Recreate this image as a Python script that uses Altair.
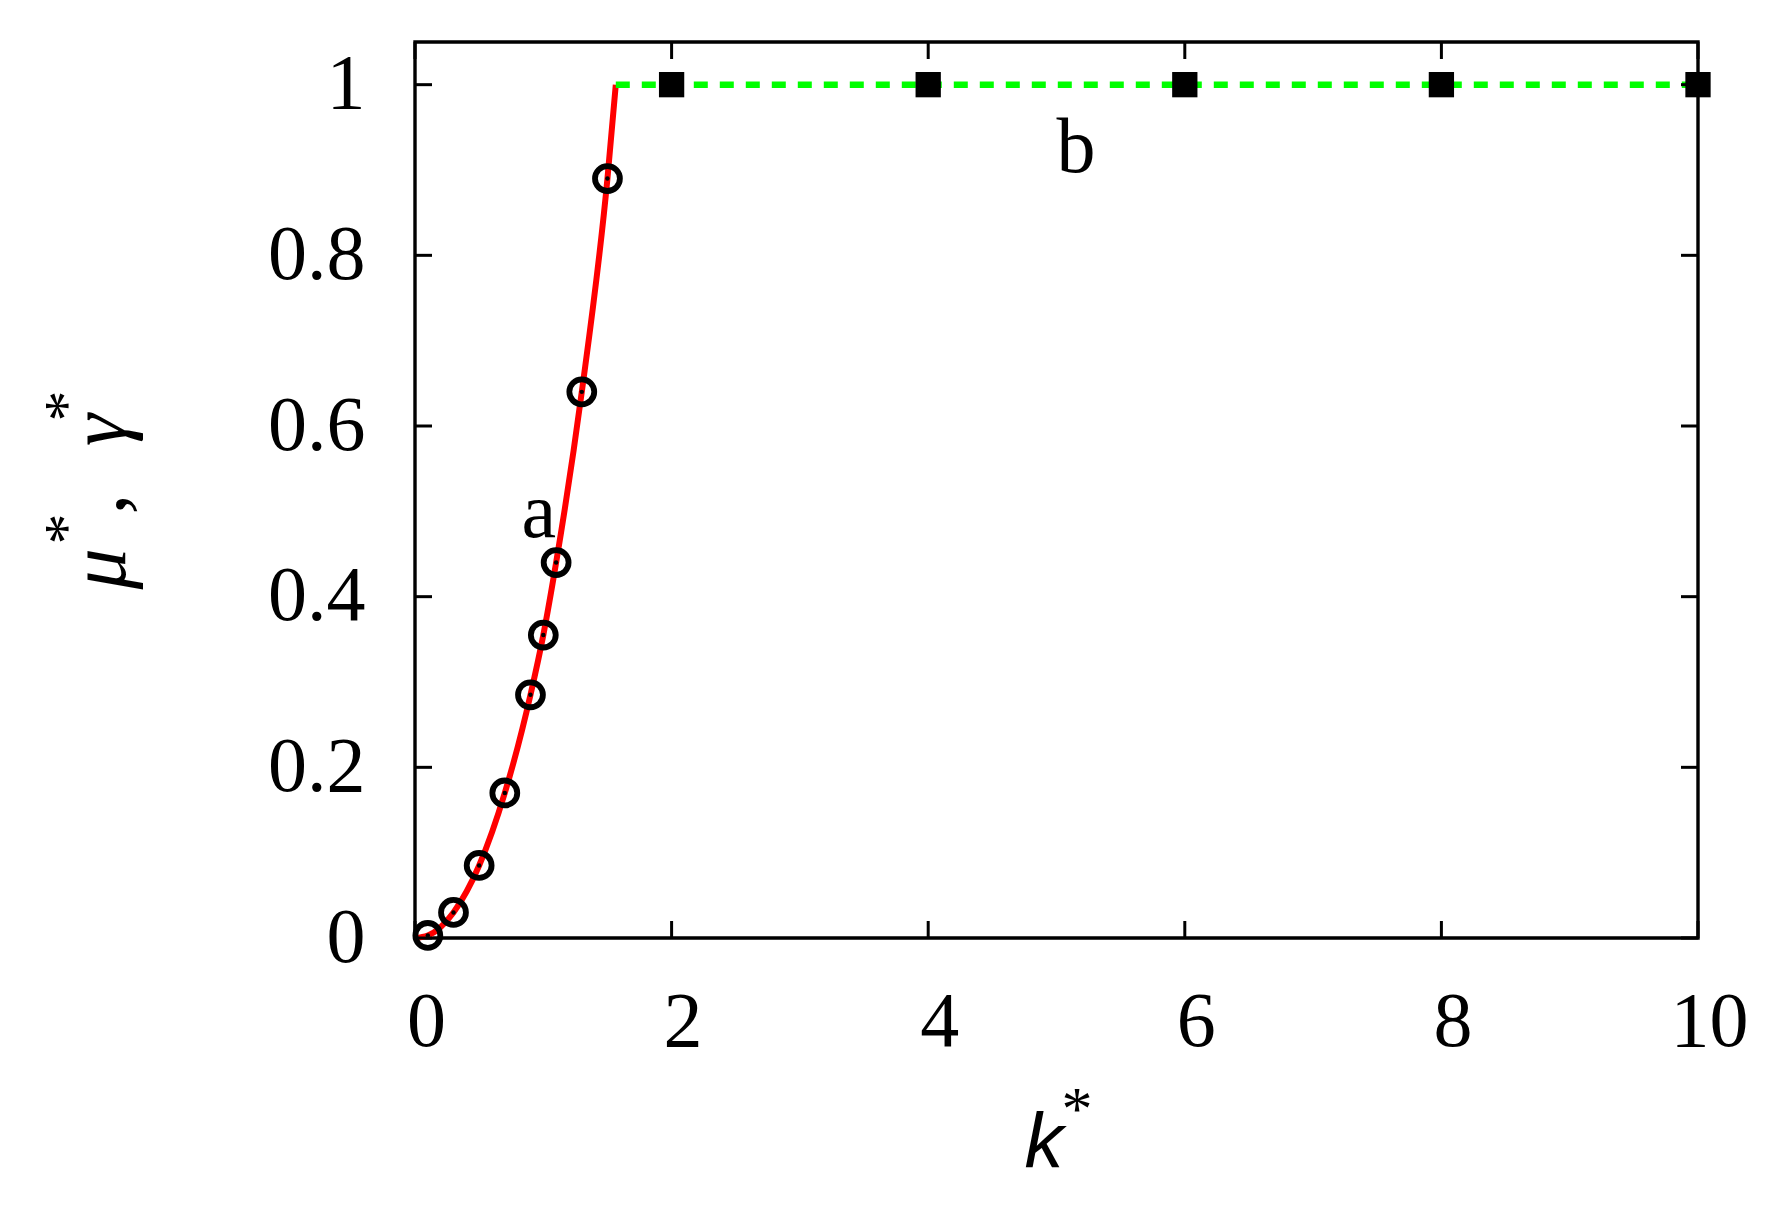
import altair as alt
import pandas as pd

# ---- data ----
curve_k = [0.0, 0.1, 0.3, 0.5, 0.7, 0.9, 1.0, 1.1, 1.3, 1.5, 1.565]
curve_v = [0.0, 0.003, 0.03, 0.085, 0.17, 0.285, 0.355, 0.44, 0.64, 0.89, 1.0]

circ_k = [0.1, 0.3, 0.5, 0.7, 0.9, 1.0, 1.1, 1.3, 1.5]
circ_v = [0.003, 0.03, 0.085, 0.17, 0.285, 0.355, 0.44, 0.64, 0.89]

dash_k = [1.565, 10.0]
dash_v = [1.0, 1.0]

sq_k = [2, 4, 6, 8, 10]
sq_v = [1.0, 1.0, 1.0, 1.0, 1.0]

x_ticks = [0, 2, 4, 6, 8, 10]
y_ticks = [0, 0.2, 0.4, 0.6, 0.8, 1.0]

ann_text = ["a", "b"]
ann_k = [0.83, 5.0]
ann_v = [0.47, 0.898]

W, H = 1283, 896
TICK = 17
SERIF = "Liberation Serif"

xscale = alt.Scale(domain=[0, 10], nice=False, zero=False)
yscale = alt.Scale(domain=[0, 1.05], nice=False, zero=False)
xaxis = alt.Axis(values=x_ticks, title=None, format="d", grid=False,
                 domain=False, ticks=False, tickSize=0, labelFont=SERIF,
                 labelFontSize=78, labelColor="black", labelPadding=107,
                 labelBaseline="alphabetic", labelOffset=11, labelFlush=False,
                 labelOverlap=False)
yaxis = alt.Axis(values=y_ticks, title=None, format="~g", grid=False,
                 domain=False, ticks=False, tickSize=0, labelFont=SERIF,
                 labelFontSize=78, labelColor="black", labelPadding=50,
                 labelAlign="right", labelBaseline="middle", labelFlush=False,
                 labelOverlap=False)

def X(f):
    return alt.X(f, type="quantitative", scale=xscale, axis=xaxis)

def Y(f):
    return alt.Y(f, type="quantitative", scale=yscale, axis=yaxis)

curve_df = pd.DataFrame({"k": curve_k, "v": curve_v})
circ_df = pd.DataFrame({"k": circ_k, "v": circ_v})
dash_df = pd.DataFrame({"k": dash_k, "v": dash_v})
sq_df = pd.DataFrame({"k": sq_k, "v": sq_v})
xt_df = pd.DataFrame({"t": x_ticks})
yt_df = pd.DataFrame({"t": y_ticks})
ann_df = pd.DataFrame({"k": ann_k, "v": ann_v, "s": ann_text})

curve = alt.Chart(curve_df).mark_line(
    color="#ff0000", strokeWidth=6, interpolate="monotone"
).encode(x=X("k"), y=Y("v"))

circles = alt.Chart(circ_df).mark_point(
    shape="circle", filled=False, color="black", strokeWidth=5.8, size=620, opacity=1
).encode(x=X("k"), y=Y("v"))

dots = alt.Chart(circ_df).mark_point(
    shape="circle", filled=True, color="black", size=20, opacity=1
).encode(x=X("k"), y=Y("v"))

dashed = alt.Chart(dash_df).mark_line(
    color="#00ff00", strokeWidth=6.5, strokeDash=[14, 12]
).encode(x=X("k"), y=Y("v"))

squares = alt.Chart(sq_df).mark_point(
    shape="square", filled=True, color="black", size=640, opacity=1, strokeWidth=0
).encode(x=X("k"), y=Y("v"))

tick_style = dict(color="black", strokeWidth=3)
xt_bottom = alt.Chart(xt_df).mark_rule(**tick_style).encode(
    x=X("t"), y=alt.value(H), y2=alt.value(H - TICK))
xt_top = alt.Chart(xt_df).mark_rule(**tick_style).encode(
    x=X("t"), y=alt.value(0), y2=alt.value(TICK))
yt_left = alt.Chart(yt_df).mark_rule(**tick_style).encode(
    y=Y("t"), x=alt.value(0), x2=alt.value(TICK))
yt_right = alt.Chart(yt_df).mark_rule(**tick_style).encode(
    y=Y("t"), x=alt.value(W), x2=alt.value(W - TICK))

ann = alt.Chart(ann_df).mark_text(
    font=SERIF, fontSize=78, color="black", align="left", baseline="alphabetic"
).encode(x=X("k"), y=Y("v"), text="s:N")

def txt(s, x, y, size, font=SERIF, style="normal", angle=0, align="center"):
    return alt.Chart(pd.DataFrame({"s": [s]})).mark_text(
        font=font, fontSize=size, fontStyle=style, color="black",
        align=align, baseline="alphabetic", angle=angle
    ).encode(text="s:N", x=alt.value(x), y=alt.value(y))

titles = [
    txt("k", 629, 1126, 78, font="Liberation Sans", style="italic"),
    txt("*", 662, 1087, 62),
    txt("μ", -290, 527, 82, style="italic", angle=270),
    txt("*", -329, 487, 62, angle=270),
    txt(",", -290, 462, 82, angle=270),
    txt("γ", -290, 388, 82, style="italic", angle=270),
    txt("*", -329, 364, 62, angle=270),
]

chart = alt.layer(
    curve, dashed, circles, dots, squares,
    xt_bottom, xt_top, yt_left, yt_right, ann, *titles
).properties(
    width=W, height=H,
    autosize=alt.AutoSizeParams(type="none"),
    padding={"left": 407, "top": 34, "right": 70, "bottom": 250},
    background="white",
).configure_view(stroke="black", strokeWidth=3.4)

chart.save("out.html", embed_options={"renderer": "svg", "actions": False})
